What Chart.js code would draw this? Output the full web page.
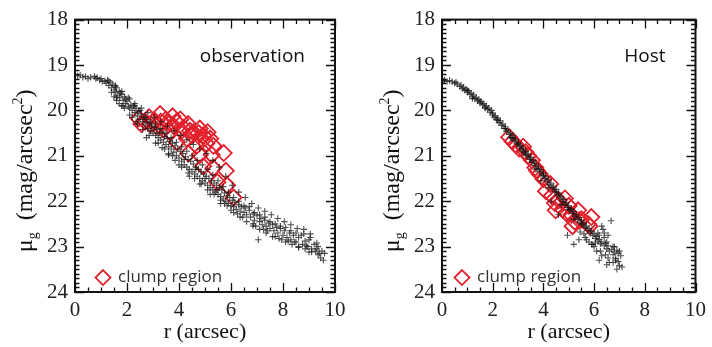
<!DOCTYPE html>
<html><head><meta charset="utf-8">
<script src="https://cdn.jsdelivr.net/npm/chart.js@4/dist/chart.umd.min.js"></script>
<style>
html,body{margin:0;padding:0;background:#fff;}
#wrap{position:relative;width:712px;height:347px;overflow:hidden;background:#fff;}
canvas{position:absolute;top:0;}
</style></head><body>
<div id="wrap"><canvas id="c1" width="356" height="347" style="left:0"></canvas><canvas id="c2" width="356" height="347" style="left:356px"></canvas></div>
<script>
// ---------- DATA ----------
const xTickValues = [0, 2, 4, 6, 8, 10];
const yTickValues = [18, 19, 20, 21, 22, 23, 24];
const panelTitles = ['observation', 'Host'];
const legendLabel = 'clump region';
const xAxisTitle = 'r (arcsec)';

// observation panel: all pixels (+)
const obsPixR = [0.1,0.2,0.3,0.4,0.5,0.6,0.75,0.8,0.85,0.95,1.0,1.05,1.15,1.2,1.25,1.3,1.35,1.4,1.45,1.5,1.55,1.6,1.62,1.7,1.72,1.8,1.85,1.9,1.95,2.0,2.05,2.1,2.15,2.2,2.25,2.3,2.35,2.4,2.45,2.5,2.55,2.6,2.65,2.7,2.75,2.8,2.85,2.9,2.95,3.0,3.05,3.1,3.15,3.2,3.25,3.3,3.35,3.4,3.45,3.5,3.55,3.6,3.65,3.7,3.75,3.8,3.85,3.9,3.95,4.0,4.05,4.1,4.15,4.2,4.25,4.3,4.35,4.4,4.45,4.5,4.55,4.6,4.65,4.7,4.75,4.8,4.85,4.9,4.95,5.0,5.05,5.1,5.15,5.2,5.25,5.3,5.35,5.4,5.45,5.5,5.55,5.6,5.65,5.7,5.75,5.8,5.85,5.9,5.95,6.0,6.05,6.1,6.15,6.2,6.3,6.35,6.4,6.5,6.55,6.6,6.7,6.75,6.85,6.9,7.0,7.05,7.1,7.15,7.2,7.3,7.35,7.45,7.5,7.6,7.65,7.75,7.8,7.9,8.0,8.05,8.15,8.25,8.3,8.4,8.5,8.6,8.7,8.75,8.85,8.95,9.05,9.1,9.2,9.25,9.35,9.4,9.5,9.55,9.45,9.6,
1.55,1.75,1.95,2.1,2.3,2.5,2.7,2.9,3.1,3.3,3.5,3.7,3.9,4.1,4.3,4.5,4.7,4.9,5.1,5.3,5.5,5.7,5.9,6.1,6.3,6.5,6.7,6.9,7.1,7.3,7.5,7.7,7.9,8.1,8.3,8.5,8.8,9.0,9.3,6.45,6.85,7.25,7.7,8.2,8.6,9.0,5.2,5.6,6.0,4.4,4.8,3.6,4.0,
1.6,1.85,2.1,2.35,2.6,2.85,3.1,3.35,3.6,3.85,4.1,4.35,4.6,4.85,5.1,5.35,5.6,5.85,6.1,6.35,6.6,6.85,7.1,7.35,7.6,7.85,8.1,8.35,8.6,8.85,9.1,9.35,
1.3,1.55,1.8,2.05,2.3,2.55,2.8,3.05,3.3,3.55,3.8,4.05,4.3,4.55,4.8,5.05,5.3,5.55,5.8,6.05,6.3,6.55,6.8,7.05,7.3,7.55,7.8,8.05,8.3,8.55,8.8,9.05,
1.4,1.5,1.6,1.7,1.8,1.9,2.2,2.4,2.75,3.2,3.45,3.75,4.2,4.65,5.0,5.45,5.75,6.25,6.95,7.4,7.95,8.45,8.9,9.3];
const obsPixMu = [19.24,19.22,19.27,19.25,19.3,19.27,19.25,19.3,19.28,19.33,19.3,19.36,19.35,19.4,19.33,19.45,19.38,19.5,19.42,19.55,19.6,19.5,19.68,19.58,19.72,19.65,19.78,19.7,19.85,19.8,19.92,19.75,19.88,20.0,19.9,20.05,19.95,20.12,20.02,20.2,20.08,20.25,20.15,20.32,20.2,20.4,20.28,20.45,20.35,20.5,20.38,20.55,20.42,20.6,20.5,20.65,20.48,20.7,20.58,20.75,20.62,20.8,20.68,20.85,20.72,20.92,20.78,21.0,20.85,21.05,20.9,21.12,20.95,21.2,21.02,21.25,21.08,21.3,21.12,21.35,21.18,21.4,21.25,21.45,21.3,21.5,21.35,21.55,21.4,21.6,21.45,21.65,21.5,21.7,21.55,21.75,21.6,21.8,21.65,21.85,21.7,21.9,21.75,21.95,21.82,22.0,21.88,22.05,21.92,22.1,21.98,22.12,22.02,22.18,22.08,22.22,22.12,22.25,22.15,22.3,22.2,22.35,22.28,22.42,22.32,22.85,22.45,22.38,22.52,22.42,22.55,22.48,22.6,22.52,22.65,22.58,22.7,22.6,22.75,22.65,22.8,22.7,22.85,22.75,22.9,22.8,22.75,22.95,22.88,23.0,22.8,23.05,22.95,23.1,23.0,23.15,23.1,23.3,23.25,23.15,
19.48,19.62,19.75,19.95,19.9,20.0,20.15,20.25,20.3,20.4,20.5,20.6,20.7,20.8,20.9,21.0,21.1,21.2,21.3,21.42,21.55,21.68,21.8,21.92,22.0,22.1,22.12,22.25,22.3,22.35,22.45,22.5,22.55,22.58,22.65,22.7,22.72,22.85,22.92,22.35,22.5,22.62,22.78,22.88,23.0,23.12,21.85,22.05,22.2,21.45,21.62,20.95,21.2,
19.72,19.9,20.1,20.25,20.42,20.55,20.72,20.82,20.98,21.1,21.25,21.38,21.5,21.62,21.75,21.85,21.98,22.1,22.25,22.35,22.45,22.55,22.62,22.7,22.78,22.82,22.9,22.95,23.02,23.05,23.12,23.18,
19.35,19.45,19.58,19.72,19.85,19.95,20.05,20.15,20.25,20.35,20.45,20.55,20.65,20.75,20.85,20.95,21.1,21.25,21.45,21.65,21.8,21.92,22.05,22.15,22.22,22.3,22.38,22.45,22.52,22.6,22.62,22.72,
19.6,19.7,19.78,19.85,19.9,19.95,20.15,20.3,20.6,20.72,20.85,21.0,21.08,21.3,21.5,21.75,22.05,22.28,22.55,22.65,22.85,22.9,22.98,23.05];
// observation panel: clump region (diamonds)
const obsClumpR = [2.45,2.55,2.7,2.85,2.9,3.05,3.15,3.27,3.3,3.4,3.5,3.6,3.65,3.75,3.8,3.9,3.92,4.05,4.1,4.17,4.3,4.35,4.42,4.5,4.55,4.68,4.75,4.8,4.85,4.93,5.05,5.1,5.2,5.32,4.36,4.8,5.26,5.72,4.93,5.32,5.8,5.48,5.85,6.1];
const obsClumpMu = [20.18,20.3,20.25,20.15,20.3,20.22,20.35,20.08,20.25,20.42,20.2,20.3,20.48,20.13,20.35,20.25,20.7,20.2,20.45,20.38,20.62,20.3,20.45,20.55,20.48,20.78,20.5,20.4,20.62,20.55,20.73,20.48,20.62,20.78,20.95,20.98,20.98,20.94,21.23,21.27,21.33,21.58,21.65,21.92];

// host panel: all pixels (+)
const hostPixR = [0.05,0.1,0.2,0.3,0.4,0.5,0.55,0.6,0.7,0.75,0.8,0.85,0.9,0.95,1.0,1.05,1.1,1.15,1.2,1.25,1.3,1.35,1.4,1.45,1.5,1.55,1.6,1.65,1.7,1.75,1.8,1.85,1.9,1.95,2.0,2.05,2.1,2.15,2.2,2.25,2.3,2.35,2.4,2.45,2.5,2.55,2.6,2.65,2.7,2.75,2.8,2.85,2.9,2.95,3.0,3.05,3.1,3.15,3.2,3.25,3.3,3.35,3.4,3.45,3.5,3.55,3.6,3.65,3.7,3.75,3.8,3.85,3.9,3.95,4.0,4.05,4.1,4.15,4.2,4.25,4.3,4.35,4.4,4.45,4.5,4.55,4.6,4.65,4.7,4.75,4.8,4.85,4.9,4.95,5.0,5.05,5.1,5.15,5.2,5.25,5.3,5.35,5.4,5.45,5.5,5.55,5.6,5.65,5.7,5.75,5.8,5.85,5.9,5.95,6.0,6.05,6.1,6.15,6.2,6.25,6.3,6.35,6.4,6.45,6.5,6.55,6.6,6.67,6.7,6.75,6.8,6.85,6.9,6.95,7.0,7.05,
1.0,1.5,2.0,2.5,3.0,3.5,4.0,4.5,5.0,5.5,4.95,5.2,5.4,5.6,5.8,6.0,6.2,6.3,6.5,6.6,6.1,5.7,4.6,4.3,3.9,3.3,2.8,
1.2,1.7,2.2,2.7,3.2,3.7,4.2,4.7,5.2,5.45,5.65,5.9,6.05,6.25,6.45,6.55,6.75,6.85,6.95,7.1,6.4,6.15,
6.2,6.4,6.5,6.8,7.0,6.9,6.3,5.95,6.55,6.75];
const hostPixMu = [19.35,19.33,19.36,19.34,19.37,19.4,19.38,19.42,19.47,19.44,19.52,19.49,19.56,19.53,19.6,19.57,19.65,19.62,19.7,19.66,19.74,19.71,19.79,19.76,19.84,19.81,19.88,19.85,19.93,19.9,19.98,19.95,20.04,20.0,20.1,20.15,20.12,20.2,20.17,20.27,20.23,20.33,20.3,20.4,20.36,20.47,20.43,20.53,20.5,20.6,20.56,20.67,20.63,20.74,20.7,20.8,20.77,20.87,20.83,20.93,20.9,21.0,20.96,21.07,21.03,21.14,21.1,21.21,21.17,21.28,21.24,21.35,21.31,21.42,21.38,21.5,21.46,21.57,21.53,21.64,21.6,21.71,21.67,21.78,21.74,21.86,21.82,21.93,21.89,22.0,21.96,22.07,22.03,22.14,22.1,22.2,22.17,22.27,22.23,22.33,22.3,22.4,22.36,22.46,22.42,22.52,22.48,22.58,22.55,22.64,22.6,22.7,22.66,22.76,22.72,22.82,22.78,22.88,22.84,22.94,22.9,22.62,22.98,22.93,23.05,22.98,23.1,22.43,23.06,23.18,23.12,23.26,23.08,23.33,23.42,23.2,
19.56,19.8,20.06,20.4,20.74,21.08,21.44,21.8,22.18,22.5,22.75,22.95,22.85,22.72,22.9,23.0,22.75,23.2,22.9,23.35,23.1,22.85,22.3,22.0,21.55,20.98,20.62,
19.74,19.95,20.22,20.6,20.9,21.3,21.7,22.08,22.4,22.68,22.8,22.95,22.92,23.1,23.18,23.25,23.0,23.3,23.15,23.45,22.8,22.7,
23.3,22.7,23.4,23.0,23.1,23.5,22.55,22.95,22.75,23.35];
// host panel: clump region (diamonds)
const hostClumpR = [2.65,2.78,2.9,3.04,3.2,3.3,3.4,3.55,3.68,3.75,3.85,4.0,4.1,4.27,4.33,4.45,4.48,4.6,4.75,4.85,4.9,5.0,5.1,5.15,5.24,5.37,5.42,5.5,5.76,5.82,5.89];
const hostClumpMu = [20.59,20.68,20.75,20.84,20.8,20.92,21.0,21.1,21.26,21.33,21.4,21.51,21.78,21.62,21.88,22.04,22.2,21.98,22.18,21.94,22.26,22.1,22.3,22.55,22.45,22.2,22.42,22.4,22.5,22.55,22.35];

// ---------- DRAWING ----------
const toPts = (xs, ys) => xs.map((v, i) => ({x: v, y: ys[i]}));
const RED = 'rgb(226,32,44)';
const SERIF = '"Liberation Serif", "DejaVu Serif", serif';
const SANS = '"Open Sans", "Noto Sans", sans-serif';

const framePlugin = {
  id: 'frame',
  afterDatasetsDraw(chart, args, o) {
    const {ctx, chartArea: a, scales: {x, y}} = chart;
    ctx.save();
    ctx.strokeStyle = '#111';
    ctx.lineWidth = 1.3;
    ctx.beginPath();
    for (let i = 0; i <= 60; i++) {
      const py = Math.round(y.getPixelForValue(18 + i / 10)) + 0.5;
      const len = i % 10 === 0 ? 9 : 4.5;
      ctx.moveTo(a.left, py); ctx.lineTo(a.left + len, py);
      ctx.moveTo(a.right, py); ctx.lineTo(a.right - len, py);
    }
    for (let i = 0; i <= 20; i++) {
      const px = Math.round(x.getPixelForValue(i * 0.5)) + 0.5;
      const len = i % 4 === 0 ? 9 : 4.5;
      ctx.moveTo(px, a.bottom); ctx.lineTo(px, a.bottom - len);
      ctx.moveTo(px, a.top); ctx.lineTo(px, a.top + len);
    }
    ctx.stroke();
    ctx.lineWidth = 2;
    ctx.strokeRect(a.left, a.top, a.right - a.left, a.bottom - a.top);

    // panel title
    ctx.fillStyle = '#111';
    ctx.font = '19px ' + SANS;
    ctx.textAlign = 'right';
    ctx.textBaseline = 'middle';
    ctx.fillText(o.title, a.right - 30, a.top + 37);

    // legend
    const lx = a.left + o.legendDx, ly = a.top + 258;
    ctx.strokeStyle = RED; ctx.lineWidth = 1.8;
    ctx.beginPath();
    ctx.moveTo(lx, ly - 7.5); ctx.lineTo(lx + 7.5, ly); ctx.lineTo(lx, ly + 7.5); ctx.lineTo(lx - 7.5, ly); ctx.closePath();
    ctx.stroke();
    ctx.fillStyle = '#333';
    ctx.font = '17px ' + SANS;
    ctx.textAlign = 'left';
    ctx.fillText(legendLabel, lx + 15, ly);

    // y axis title: mu_g (mag/arcsec^2)
    ctx.save();
    ctx.translate(a.left - 43, (a.top + a.bottom) / 2 + 15);
    ctx.rotate(-Math.PI / 2);
    ctx.fillStyle = '#111';
    ctx.textAlign = 'left';
    ctx.textBaseline = 'alphabetic';
    const parts = [['\u03bc', 24, 0], ['g', 14, 5], ['  (mag/arcsec', 24, 0], ['2', 14, -10], [')', 24, 0]];
    let total = 0;
    parts.forEach(p => { ctx.font = p[1] + 'px ' + SERIF; total += ctx.measureText(p[0]).width; });
    let cx = -total / 2;
    parts.forEach(p => { ctx.font = p[1] + 'px ' + SERIF; ctx.fillText(p[0], cx, p[2]); cx += ctx.measureText(p[0]).width; });
    ctx.restore();
    ctx.restore();
  }
};

function makePanel(id, pixR, pixMu, clR, clMu, title, yWidth, padRight, legendDx) {
  return new Chart(document.getElementById(id), {
    type: 'scatter',
    data: {
      datasets: [
        {label: 'pixels', data: toPts(pixR, pixMu), pointStyle: 'cross', pointRadius: 3.2,
         borderColor: 'rgba(20,20,20,0.75)', borderWidth: 1.1, backgroundColor: 'rgba(0,0,0,0)'},
        {label: legendLabel, data: toPts(clR, clMu), pointStyle: 'rectRot', pointRadius: 8,
         borderColor: RED, borderWidth: 1.8, backgroundColor: 'rgba(0,0,0,0)'}
      ]
    },
    options: {
      responsive: false, animation: false, devicePixelRatio: 1,
      layout: {padding: {left: 0, right: padRight, top: 10, bottom: 0}},
      plugins: {legend: {display: false}, tooltip: {enabled: false}, frame: {title: title, legendDx: legendDx}},
      scales: {
        x: {type: 'linear', min: 0, max: 10,
            afterBuildTicks: s => { s.ticks = xTickValues.map(v => ({value: v})); },
            afterFit: s => { s.height = 55; },
            grid: {display: false, drawTicks: false}, border: {display: false},
            ticks: {color: '#222', font: {family: SERIF, size: 21}, padding: 6, maxRotation: 0},
            title: {display: true, text: xAxisTitle, color: '#111', font: {family: SERIF, size: 22}, padding: {top: 0, bottom: 2}}},
        y: {type: 'linear', min: 18, max: 24, reverse: true,
            afterBuildTicks: s => { s.ticks = yTickValues.map(v => ({value: v})); },
            afterFit: s => { s.width = yWidth; },
            grid: {display: false, drawTicks: false}, border: {display: false},
            ticks: {color: '#222', font: {family: SERIF, size: 21}, padding: 7}}
      }
    },
    plugins: [framePlugin]
  });
}

makePanel('c1', obsPixR, obsPixMu, obsClumpR, obsClumpMu, panelTitles[0], 75, 21, 28);
makePanel('c2', hostPixR, hostPixMu, hostClumpR, hostClumpMu, panelTitles[1], 86, 13, 20);
</script></body></html>
